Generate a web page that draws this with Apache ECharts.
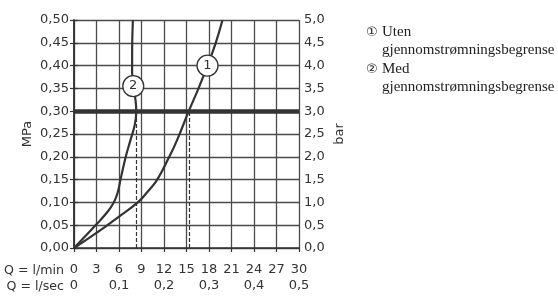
<!DOCTYPE html>
<html>
<head>
<meta charset="utf-8">
<script src="https://cdn.jsdelivr.net/npm/echarts@6/dist/echarts.min.js"></script>
<style>
  html, body { margin: 0; padding: 0; background: #fff; }
  #chart { width: 558px; height: 296px; }
</style>
</head>
<body>
<div id="chart"></div>
<script>
// curve 1: uten begrenser, curve 2: med begrenser (Q in l/min, p in MPa)
const flowUten = [0, 3, 6, 8.5, 9.9, 11.1, 12.7, 13.7, 15.3, 16.6, 17.8, 18.9, 19.8];
const pressUten = [0, 0.033, 0.069, 0.10, 0.125, 0.15, 0.20, 0.235, 0.30, 0.35, 0.40, 0.45, 0.50];
const flowMed = [0, 3, 4.5, 5.3, 5.8, 6.2, 6.9, 7.5, 8.1, 8.3, 8.2, 7.9, 7.75, 7.75, 7.85];
const pressMed = [0, 0.052, 0.08, 0.10, 0.12, 0.15, 0.20, 0.235, 0.27, 0.30, 0.325, 0.355, 0.385, 0.43, 0.50];

const curveNames = ["Uten", "Med"];
const curveMarks = ["①", "②"];
const legendSub = "gjennomstrømningsbegrense";

// circled numbers on the curves
const badgeFlow = [17.8, 7.9];
const badgePress = [0.40, 0.355];

// working pressure and matching flow (dashed drop lines)
const workPressure = 0.30;
const workFlow = [15.3, 8.25];

const comma = (v, d) => v.toFixed(d).replace(".", ",");
const ink = "#333";
const font = "DejaVu Sans";

const chart = echarts.init(document.getElementById("chart"));

function makeSeries(i, flows, press) {
  const s = {
    name: curveNames[i],
    type: "line",
    data: flows.map((q, k) => [q, press[k]]),
    showSymbol: false,
    smooth: 0.45,
    lineStyle: { color: ink, width: 2.2 },
    itemStyle: { color: ink },
    z: 5,
    markPoint: {
      symbol: "circle",
      symbolSize: 21,
      itemStyle: { color: "#fff", borderColor: ink, borderWidth: 1.3 },
      label: { show: true, formatter: "{b}", color: ink, fontSize: 13, fontFamily: font },
      data: [{ name: String(i + 1), coord: [badgeFlow[i], badgePress[i]] }],
      z: 10,
    },
    markLine: {
      silent: true,
      symbol: "none",
      label: { show: false },
      lineStyle: { color: ink, width: 1.2, type: [4, 2] },
      data: [[{ coord: [workFlow[i], 0] }, { coord: [workFlow[i], workPressure] }]],
    },
  };
  if (i === 0) {
    s.markLine.data.push({ yAxis: workPressure, lineStyle: { color: ink, width: 4.5, type: "solid" } });
  }
  return s;
}

const option = {
  animation: false,
  backgroundColor: "#fff",
  grid: { left: 74, right: 259, top: 20, bottom: 48 },
  legend: {
    orient: "vertical",
    left: 356,
    top: 20,
    itemGap: 4,
    icon: "none",
    itemWidth: 0,
    selectedMode: false,
    formatter: (name) => {
      const i = curveNames.indexOf(name);
      return "{n|" + curveMarks[i] + "}{t|" + name + "}\n{p|}{t|" + legendSub + "}";
    },
    textStyle: {
      color: "#222",
      rich: {
        n: { fontFamily: font, fontSize: 13, width: 16, lineHeight: 18, color: "#222" },
        p: { width: 16, lineHeight: 18 },
        t: { fontFamily: "Liberation Serif", fontSize: 15, lineHeight: 18, color: "#222" },
      },
    },
  },
  xAxis: [
    {
      type: "value",
      min: 0,
      max: 30,
      interval: 3,
      name: "Q = l/min",
      nameLocation: "start",
      nameGap: 66,
      nameTextStyle: { color: ink, fontFamily: font, fontSize: 12.6, align: "left", verticalAlign: "top", padding: [16, 0, 0, 0] },
      axisLine: { lineStyle: { color: ink, width: 1.5 } },
      axisTick: { show: true, inside: false, length: 4, lineStyle: { color: ink, width: 1.2 } },
      axisLabel: { color: ink, fontFamily: font, fontSize: 13, margin: 15 },
      splitLine: { show: true, lineStyle: { color: "#4a4a4a", width: 1.3 } },
    },
    {
      type: "value",
      min: 0,
      max: 0.5,
      interval: 0.1,
      position: "bottom",
      name: "Q = l/sec",
      nameLocation: "start",
      nameGap: 66,
      nameTextStyle: { color: ink, fontFamily: font, fontSize: 12.6, align: "left", verticalAlign: "top", padding: [32, 0, 0, 0] },
      axisLine: { show: false },
      axisTick: { show: false },
      splitLine: { show: false },
      axisLabel: {
        color: ink,
        fontFamily: font,
        fontSize: 13,
        margin: 31,
        formatter: (v) => (v === 0 ? "0" : comma(v, 1)),
      },
    },
  ],
  yAxis: [
    {
      type: "value",
      min: 0,
      max: 0.5,
      interval: 0.05,
      name: "MPa",
      nameLocation: "middle",
      nameRotate: 90,
      nameGap: 40,
      nameTextStyle: { color: ink, fontFamily: font, fontSize: 13 },
      axisLine: { show: true, lineStyle: { color: ink, width: 1.5 } },
      axisTick: { show: true, inside: false, length: 4, lineStyle: { color: ink, width: 1.2 } },
      axisLabel: { color: ink, fontFamily: font, fontSize: 13, margin: 5, formatter: (v) => comma(v, 2) },
      splitLine: { show: true, lineStyle: { color: "#4a4a4a", width: 1.3 } },
    },
    {
      type: "value",
      min: 0,
      max: 5,
      interval: 0.5,
      position: "right",
      name: "bar",
      nameLocation: "middle",
      nameRotate: 90,
      nameGap: 34,
      nameTextStyle: { color: ink, fontFamily: font, fontSize: 13 },
      axisLine: { show: true, lineStyle: { color: ink, width: 1.5 } },
      axisTick: { show: true, inside: false, length: 4, lineStyle: { color: ink, width: 1.2 } },
      axisLabel: { color: ink, fontFamily: font, fontSize: 13, margin: 5, formatter: (v) => comma(v, 1) },
      splitLine: { show: false },
    },
  ],
  series: [makeSeries(0, flowUten, pressUten), makeSeries(1, flowMed, pressMed)],
};

chart.setOption(option);
</script>
</body>
</html>
